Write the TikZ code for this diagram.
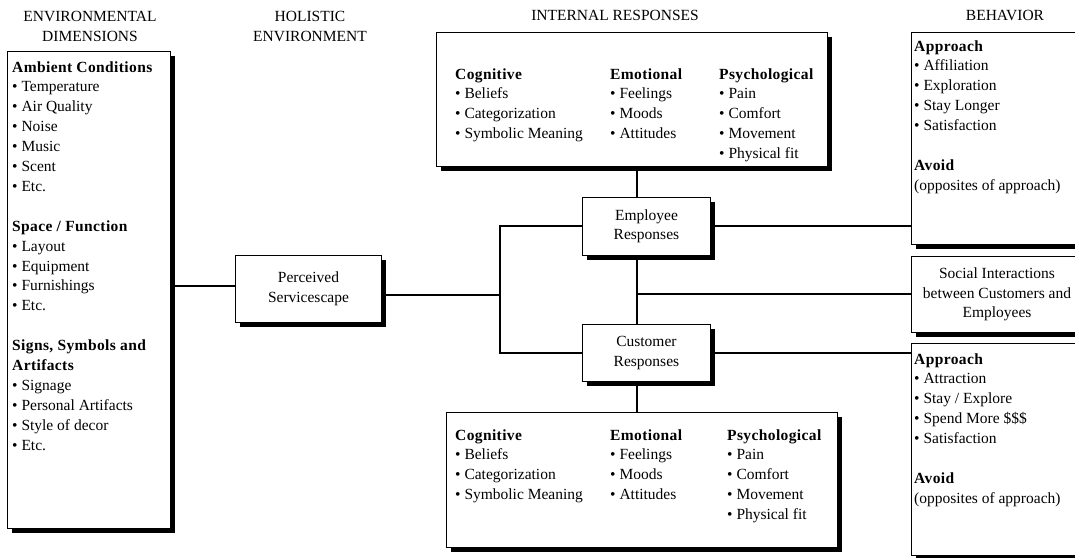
\documentclass[tikz,border=0pt]{standalone}
\usepackage{fontspec}
\setmainfont{Liberation Serif}[BoldFeatures={LetterSpace=2.5}]
\usetikzlibrary{shadows}
\newcommand\myfs{\fontsize{15.5}{19.5}\selectfont}
\newcommand\mylist[4]{\foreach \t [count=\i] in {#4} {\node[txt] (#1\i) at (#2,{#3+19.9*(\i-1)}) {\t};}}
\tikzset{
 box/.style={draw, line width=0.9pt, fill=white, inner sep=0pt, anchor=north west,
   drop shadow={shadow xshift=5pt, shadow yshift=-5pt, fill=black, opacity=1}},
 conn/.style={line width=2pt},
 txt/.style={anchor=base west, inner sep=0pt, font=\myfs},
 hdr/.style={anchor=base, inner sep=0pt, font=\myfs},
 ctr/.style={align=center, font=\myfs, inner sep=0pt},
}
\begin{document}
\begin{tikzpicture}[x=1pt,y=-1pt]
\useasboundingbox (0,0) rectangle (1075,557);
\clip (0,0) rectangle (1075,557);
% headers
\node[hdr] (h1a) at (90,21) {ENVIRONMENTAL};
\node[hdr] (h1b) at (90,41) {DIMENSIONS};
\node[hdr] (h2a) at (310,21) {HOLISTIC};
\node[hdr] (h2b) at (310,41) {ENVIRONMENT};
\node[hdr] (h3) at (615,20) {INTERNAL RESPONSES};
\node[hdr] (h4) at (1005,20) {BEHAVIOR};
% boxes
\node[box, minimum width=163pt, minimum height=477pt] (env) at (7,51) {};
\node[box, minimum width=146pt, minimum height=67pt] (perc) at (235,255) {};
\node[box, minimum width=128pt, minimum height=58pt] (emp) at (582,197) {};
\node[box, minimum width=128pt, minimum height=57pt] (cust) at (582,324) {};
\node[box, minimum width=391pt, minimum height=134pt] (itop) at (436,32) {};
\node[box, minimum width=391pt, minimum height=135pt] (ibot) at (446,412) {};
\node[box, minimum width=175pt, minimum height=212pt] (btop) at (911,32) {};
\node[box, minimum width=172pt, minimum height=76pt] (social) at (911,256) {};
\node[box, minimum width=175pt, minimum height=212pt] (bbot) at (911,343) {};
% connectors
\coordinate (la) at (0,286);
\coordinate (jn) at (500,295);
\coordinate (sp) at (637,0);
\draw[conn] (env.east |- la) -- (perc.west |- la);
\draw[conn] (perc.east |- jn) -- (jn);
\draw[conn] (emp.west) -- (emp.west -| jn) -- (cust.west -| jn) -- (cust.west);
\draw[conn] (itop.south -| sp) -- (emp.north -| sp);
\draw[conn] (emp.south -| sp) -- (cust.north -| sp);
\draw[conn] (cust.south -| sp) -- (ibot.north -| sp);
\draw[conn] (social.west -| sp) -- (social.west);
\draw[conn] (emp.east) -- (emp.east -| btop.west);
\draw[conn] (cust.east) -- (cust.east -| bbot.west);
% centred texts
\node[ctr] (tperc) at (perc.center) {Perceived\\Servicescape};
\node[ctr] (temp) at (emp.center) {Employee\\Responses};
\node[ctr] (tcust) at (cust.center) {Customer\\Responses};
\node[ctr] (tsoc) at (997,294.5) {Social Interactions\\between Customers and\\Employees};
% left lists
\mylist{a}{12}{72}{\textbf{Ambient Conditions},• Temperature,• Air Quality,• Noise,• Music,• Scent,• Etc.}
\mylist{b}{12}{231.2}{\textbf{Space / Function},• Layout,• Equipment,• Furnishings,• Etc.}
\mylist{c}{12}{350.6}{{\textbf{Signs, Symbols and}},\textbf{Artifacts},• Signage,• Personal Artifacts,• Style of decor,• Etc.}
% internal top
\mylist{d}{455}{79}{\textbf{Cognitive},• Beliefs,• Categorization,• Symbolic Meaning}
\mylist{e}{610}{79}{\textbf{Emotional},• Feelings,• Moods,• Attitudes}
\mylist{f}{719}{79}{\textbf{Psychological},• Pain,• Comfort,• Movement,• Physical fit}
% internal bottom
\mylist{g}{455}{440}{\textbf{Cognitive},• Beliefs,• Categorization,• Symbolic Meaning}
\mylist{h}{610}{440}{\textbf{Emotional},• Feelings,• Moods,• Attitudes}
\mylist{k}{727}{440}{\textbf{Psychological},• Pain,• Comfort,• Movement,• Physical fit}
% behavior
\mylist{m}{914}{51}{\textbf{Approach},• Affiliation,• Exploration,• Stay Longer,• Satisfaction}
\mylist{n}{914}{170.4}{\textbf{Avoid},(opposites of approach)}
\mylist{p}{914}{364}{\textbf{Approach},• Attraction,• Stay / Explore,• Spend More \$\$\$,• Satisfaction}
\mylist{q}{914}{483.4}{\textbf{Avoid},(opposites of approach)}
\end{tikzpicture}
\end{document}
